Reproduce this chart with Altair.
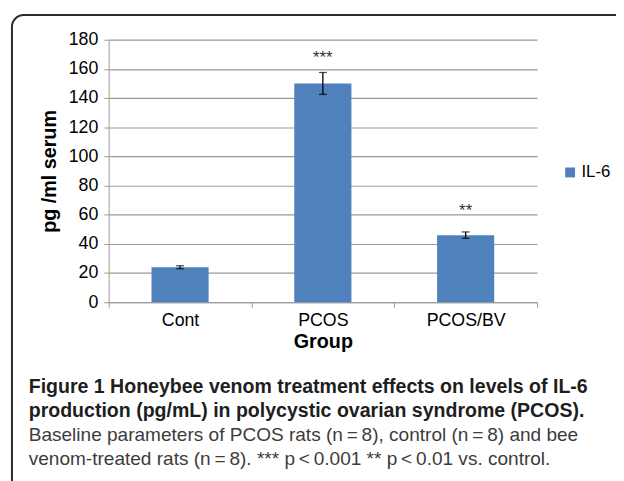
import altair as alt
import pandas as pd

groups = ["Cont", "PCOS", "PCOS/BV"]
means = [24, 150, 46]
errors = [1.0, 7.5, 2.2]
stars = ["", "***", "**"]
star_heights = [None, 164, 59]
series_name = "IL-6"
y_ticks = [0, 20, 40, 60, 80, 100, 120, 140, 160, 180]

caption_bold = [
    "Figure 1 Honeybee venom treatment effects on levels of IL-6",
    "production (pg/mL) in polycystic ovarian syndrome (PCOS).",
]
caption_regular = [
    "Baseline parameters of PCOS rats (n\u2009=\u20098), control (n\u2009=\u20098) and bee",
    "venom-treated rats (n\u2009=\u20098). *** p\u2009<\u20090.001 ** p\u2009<\u20090.01 vs. control.",
]

df = pd.DataFrame({
    "group": groups,
    "mean": means,
    "err": errors,
    "star": stars,
    "star_y": star_heights,
    "series": [series_name] * len(groups),
})
df["lo"] = df["mean"] - df["err"]
df["hi"] = df["mean"] + df["err"]

FONT = "Liberation Sans"
GRAY = "#9a9a9a"

xs = alt.Scale(domain=groups, paddingInner=0, paddingOuter=0)
ys = alt.Scale(domain=[0, 180], nice=False)

x_axis = alt.Axis(
    title="Group", labelAngle=0, tickBand="extent", domainColor=GRAY, tickColor=GRAY,
    tickSize=5, labelFontSize=18, labelFont=FONT, labelColor="black", labelPadding=5,
    titleFont=FONT, titleFontSize=20, titleFontWeight="bold", titleColor="black", titlePadding=2,
    grid=False)
y_axis = alt.Axis(
    title="pg /ml serum", values=y_ticks, labelOverlap=False, domainColor=GRAY, tickColor=GRAY,
    tickSize=5, gridColor=GRAY, gridWidth=1.2, labelFontSize=18, labelFont=FONT,
    labelColor="black", labelPadding=6, titleFont=FONT, titleFontSize=20,
    titleFontWeight="bold", titleColor="black", titlePadding=9)


def X():
    return alt.X("group:N", scale=xs, sort=groups, axis=x_axis)


def Y(field):
    return alt.Y(field, scale=ys, axis=y_axis)


base = alt.Chart(df)

bars = base.mark_bar(width=alt.RelativeBandSize(0.4)).encode(
    x=X(),
    y=Y("mean:Q"),
    color=alt.Color("series:N", scale=alt.Scale(range=["#4F81BD"]), legend=alt.Legend(
        title=None, orient="none", legendX=459, legendY=126, symbolType="square",
        symbolSize=100, symbolStrokeWidth=0, labelFont=FONT, labelFontSize=17,
        labelColor="black", padding=0, labelOffset=3)),
)

err_rule = base.mark_rule(color="black", strokeWidth=1.3).encode(
    x=X(), y=Y("lo:Q"), y2="hi:Q")
cap_lo = base.mark_tick(color="black", size=8, thickness=1.3).encode(x=X(), y=Y("lo:Q"))
cap_hi = base.mark_tick(color="black", size=8, thickness=1.3).encode(x=X(), y=Y("hi:Q"))

star_text = base.transform_filter("datum.star != ''").mark_text(
    font=FONT, fontSize=17, color="#333333", baseline="alphabetic").encode(
    x=X(), y=Y("star_y:Q"), text="star:N")

frame_df = pd.DataFrame({"k": [0]})
frame = alt.Chart(frame_df).mark_rect(
    fillOpacity=0, stroke="#2a2a2a", strokeWidth=2, cornerRadius=12).encode(
    x=alt.value(-98), x2=alt.value(700), y=alt.value(-25), y2=alt.value(700))

caption_layers = []
cap_y0 = 358
cap_dy = 24.3
for i, line in enumerate(caption_bold + caption_regular):
    bold = i < len(caption_bold)
    cdf = pd.DataFrame({"t": [line]})
    caption_layers.append(alt.Chart(cdf).mark_text(
        font=FONT, fontSize=19.8 if bold else 19.3, fontWeight="bold" if bold else "normal",
        color="#1e1e1e" if bold else "#3c3c3c", align="left", baseline="alphabetic").encode(
        x=alt.value(-81), y=alt.value(cap_y0 + i * cap_dy), text="t:N"))

chart = alt.layer(frame, bars, err_rule, cap_lo, cap_hi, star_text, *caption_layers).properties(
    width=434, height=266,
    autosize=alt.AutoSizeParams(type="none"),
    padding={"left": 102, "top": 29, "right": 80, "bottom": 178},
    background="white",
).configure_view(stroke=None)

chart.save("out.html", embed_options={"renderer": "svg", "actions": False})
